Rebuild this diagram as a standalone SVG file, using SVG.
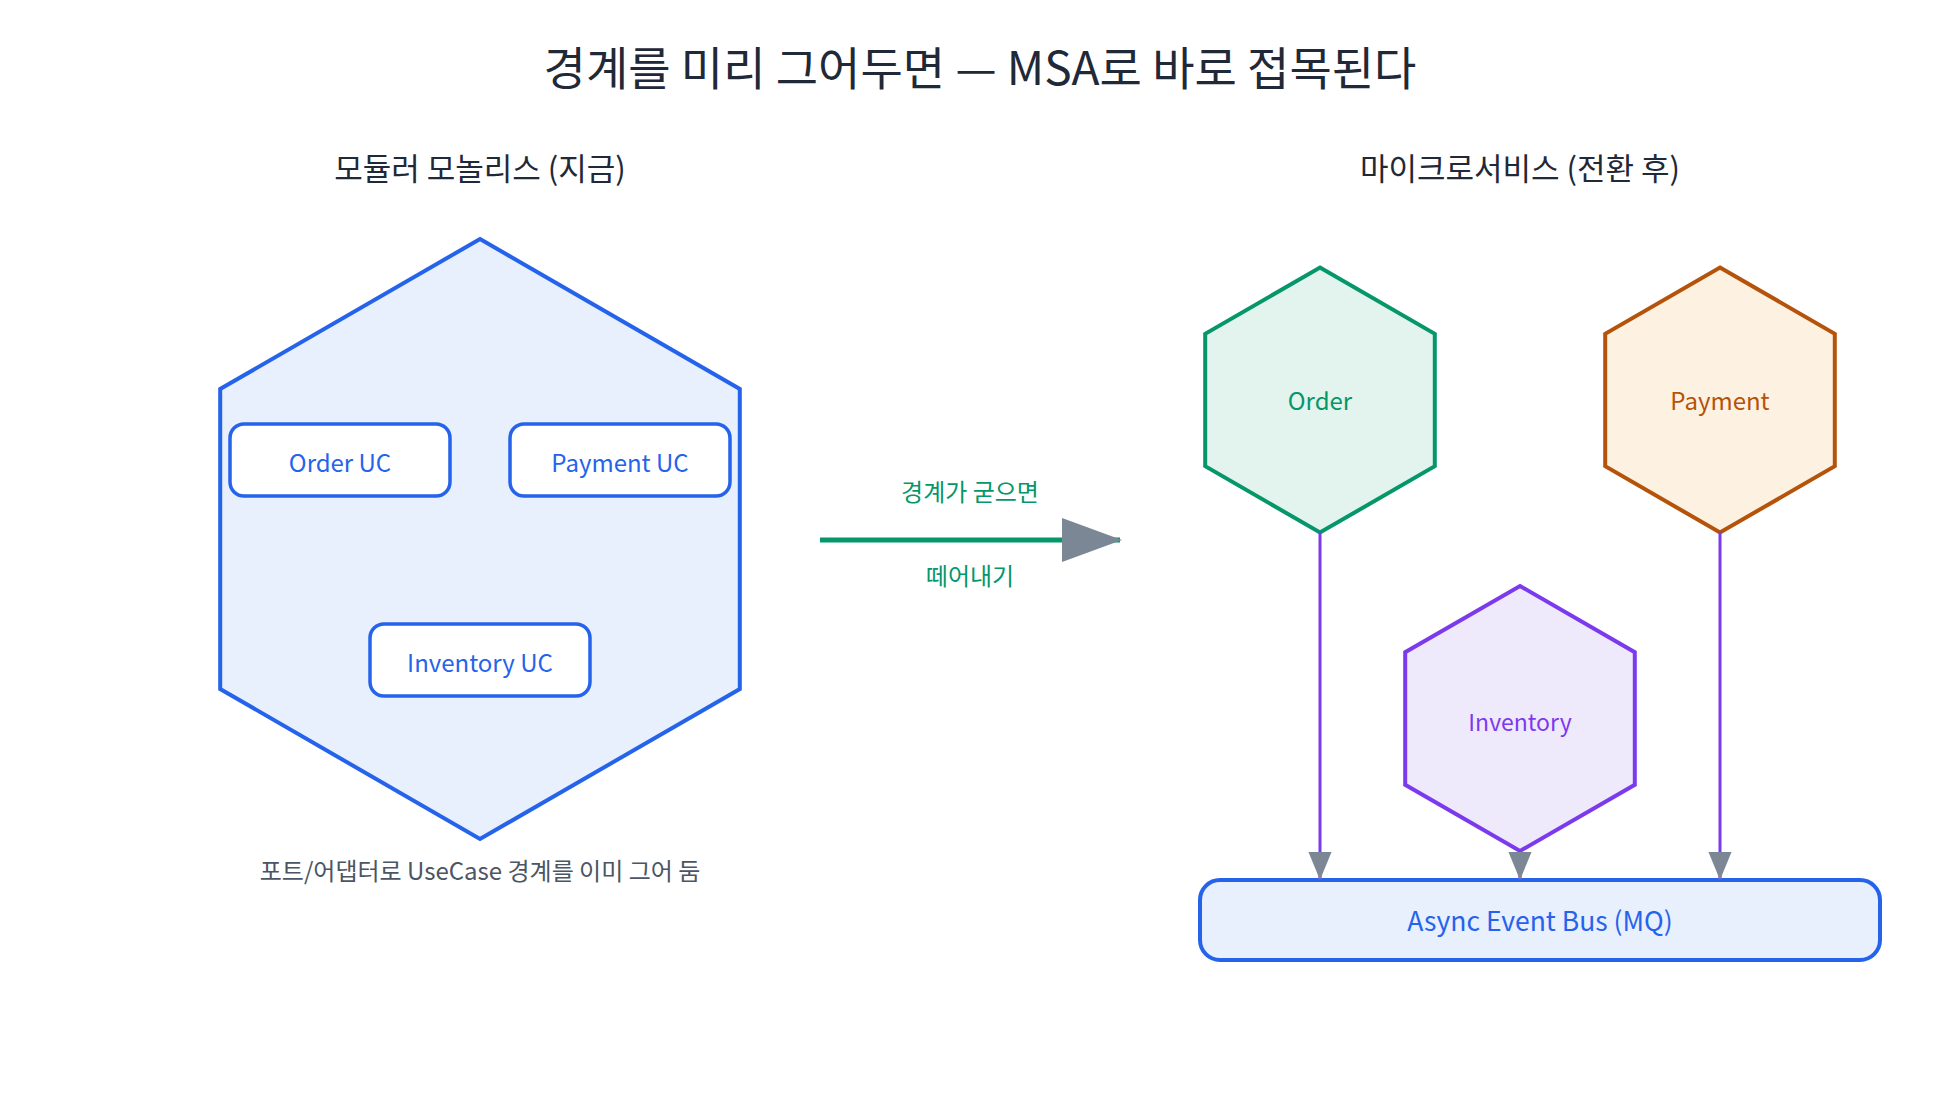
<svg xmlns="http://www.w3.org/2000/svg" width="1960" height="1120" viewBox="0 0 1960 1120">
  <style>
    text { font-family: "Noto Sans CJK KR", "Noto Sans", sans-serif; text-anchor: middle; }
    .title { font-size: 46px; fill: #1f2937; }
    .sub { font-size: 31px; fill: #1f2937; }
    .uc { fill: #ffffff; stroke: #2563eb; stroke-width: 3.5; }
    .uct { font-size: 24px; fill: #2563eb; }
    .cap { font-size: 24px; fill: #4b5563; }
    .lbl { font-size: 24px; fill: #059669; }
    .conn { stroke: #7c3aed; stroke-width: 3; fill: none; }
  </style>
  <defs>
    <marker id="arrowBig" markerUnits="userSpaceOnUse" markerWidth="60" markerHeight="44" refX="58" refY="22" orient="auto">
      <path d="M0,0 L60,22 L0,44 Z" fill="#7b8794"/>
    </marker>
    <marker id="arrowSm" markerUnits="userSpaceOnUse" markerWidth="28" markerHeight="34" refX="34" refY="14" orient="auto" viewBox="0 0 34 28">
      <path d="M0,0 L34,14 L0,28 Z" fill="#7b8794"/>
    </marker>
  </defs>

  <rect width="1960" height="1120" fill="#ffffff"/>

  <text class="title" x="980" y="85">경계를 미리 그어두면 — MSA로 바로 접목된다</text>
  <text class="sub" x="480" y="180">모듈러 모놀리스 (지금)</text>
  <text class="sub" x="1520" y="180">마이크로서비스 (전환 후)</text>

  <g id="monolith">
    <polygon points="480,239 739.8,389 739.8,689 480,839 220.2,689 220.2,389" fill="#e8effd" stroke="#2563eb" stroke-width="4"/>
  </g>
  <g id="order-uc">
    <rect class="uc" x="230" y="424" width="220" height="72" rx="14"/>
    <text class="uct" x="340" y="472">Order UC</text>
  </g>
  <g id="payment-uc">
    <rect class="uc" x="510" y="424" width="220" height="72" rx="14"/>
    <text class="uct" x="620" y="472">Payment UC</text>
  </g>
  <g id="inventory-uc">
    <rect class="uc" x="370" y="624" width="220" height="72" rx="14"/>
    <text class="uct" x="480" y="672">Inventory UC</text>
  </g>
  <text class="cap" x="480" y="880">포트/어댑터로 UseCase 경계를 이미 그어 둠</text>

  <g id="order-svc">
    <polygon points="1320,267.5 1434.8,333.8 1434.8,466.2 1320,532.5 1205.2,466.2 1205.2,333.8" fill="#e3f4ee" stroke="#059669" stroke-width="4"/>
    <text x="1320" y="410" style="font-size:24px;fill:#059669">Order</text>
  </g>
  <g id="payment-svc">
    <polygon points="1720,267.5 1834.8,333.8 1834.8,466.2 1720,532.5 1605.2,466.2 1605.2,333.8" fill="#fdf1e1" stroke="#b45309" stroke-width="4"/>
    <text x="1720" y="410" style="font-size:24px;fill:#b45309">Payment</text>
  </g>
  <g id="inventory-svc">
    <polygon points="1520,586 1634.8,652.2 1634.8,784.8 1520,851 1405.2,784.8 1405.2,652.2" fill="#efe9fc" stroke="#7c3aed" stroke-width="4"/>
    <text x="1520" y="731" style="font-size:23px;fill:#7c3aed">Inventory</text>
  </g>
  <g id="event-bus">
    <rect x="1200" y="880" width="680" height="80" rx="20" fill="#e8effd" stroke="#2563eb" stroke-width="4"/>
    <text x="1540" y="931" style="font-size:26.5px;fill:#2563eb">Async Event Bus (MQ)</text>
  </g>

  <g id="connectors">
    <line x1="820" y1="540" x2="1120" y2="540" stroke="#059669" stroke-width="5" marker-end="url(#arrowBig)"/>
    <text class="lbl" x="970" y="501">경계가 굳으면</text>
    <text class="lbl" x="970" y="585">떼어내기</text>
    <line class="conn" x1="1320" y1="532.5" x2="1320" y2="880" marker-end="url(#arrowSm)"/>
    <line class="conn" x1="1520" y1="851" x2="1520" y2="880" marker-end="url(#arrowSm)"/>
    <line class="conn" x1="1720" y1="532.5" x2="1720" y2="880" marker-end="url(#arrowSm)"/>
  </g>
</svg>
